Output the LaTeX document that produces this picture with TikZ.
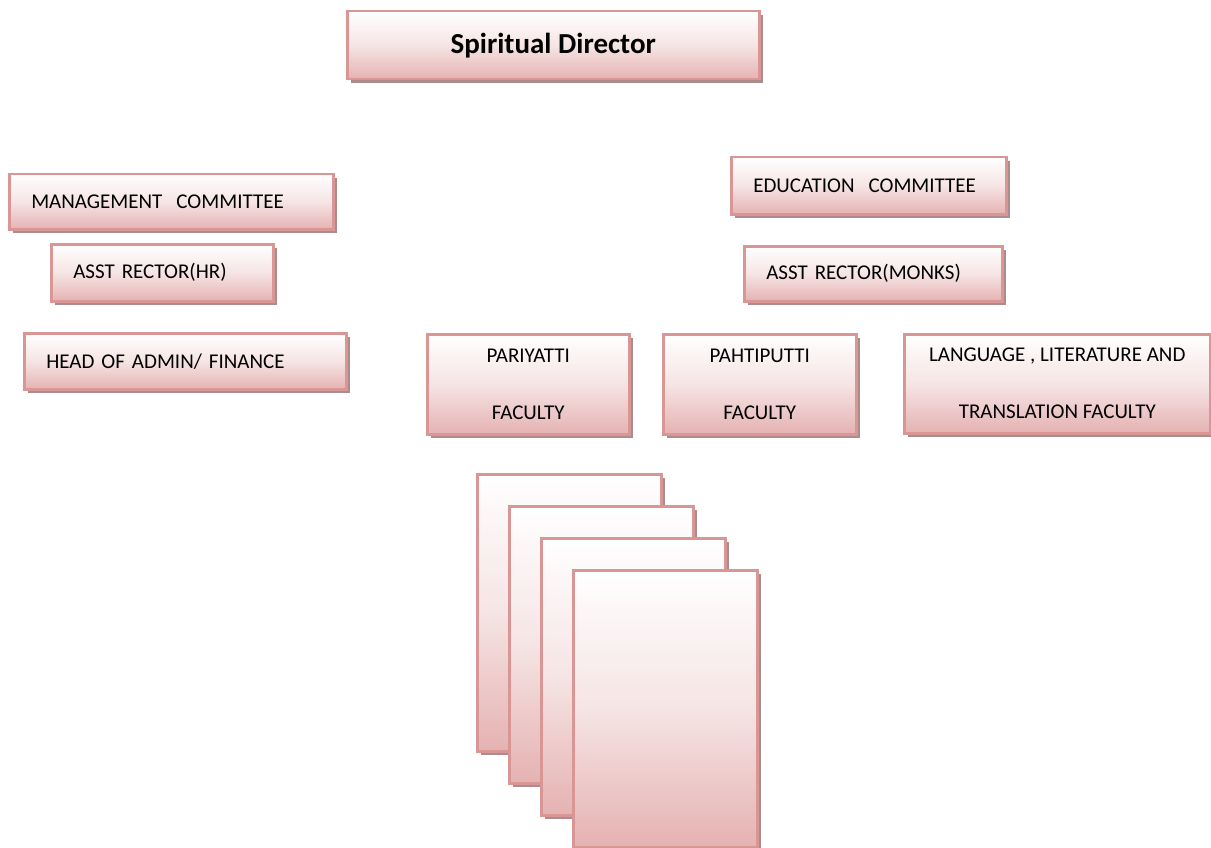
\documentclass[tikz,border=0pt]{standalone}
\usepackage{fontspec}
\setmainfont{Carlito}
\usetikzlibrary{shadows}

\definecolor{boxline}{RGB}{217,150,148}
\definecolor{boxfill}{RGB}{229,178,178}
\definecolor{boxshadow}{RGB}{170,140,140}

\tikzset{
  orgbox/.style={draw=boxline, line width=2.5pt,
    top color=white, bottom color=boxfill, middle color=boxfill!35!white,
    drop shadow={shadow xshift=4pt, shadow yshift=-4pt, fill=boxshadow, opacity=1},
    anchor=north west, inner sep=0pt, font=\fontsize{21}{27}\selectfont},
  leftbox/.style={align=left, inner xsep=22pt},
  facbox/.style={align=center},
}

\begin{document}
\begin{tikzpicture}[x=1pt,y=-1pt]
\useasboundingbox (0,0) rectangle (1211,848);
% Top box
\node[orgbox, minimum width=412pt, minimum height=68pt, font=\fontsize{29}{35}\bfseries] (director) at (346,10) {Spiritual Director};
% Left column
\node[orgbox, leftbox, text width=280pt, minimum height=55pt] (mgmt) at (8,173) {MANAGEMENT\ \ COMMITTEE};
\node[orgbox, leftbox, text width=178pt, minimum height=57pt] (hr) at (50,243) {ASST RECTOR(HR)};
\node[orgbox, leftbox, text width=278pt, minimum height=56pt] (admin) at (23,332) {HEAD OF ADMIN/ FINANCE};
% Right column
\node[orgbox, leftbox, text width=231pt, minimum height=57pt] (edu) at (730,156) {EDUCATION\ \ COMMITTEE};
\node[orgbox, leftbox, text width=214pt, minimum height=55pt] (monks) at (743,245) {ASST RECTOR(MONKS)};
% Faculties
\node[orgbox, facbox, minimum width=202pt, minimum height=100pt] (pari) at (426,333) {PARIYATTI\\[30pt]FACULTY};
\node[orgbox, facbox, minimum width=193pt, minimum height=100pt] (pahti) at (662,333) {PAHTIPUTTI\\[30pt]FACULTY};
\node[orgbox, facbox, minimum width=306pt, minimum height=99pt] (lang) at (903,333) {LANGUAGE , LITERATURE AND\\[30pt]TRANSLATION FACULTY};
% Stacked pages
\foreach \i in {0,...,3}
  \node[orgbox, minimum width=184pt, minimum height=277pt] (page\i) at (476+32*\i,473+32*\i) {};
\end{tikzpicture}
\end{document}
